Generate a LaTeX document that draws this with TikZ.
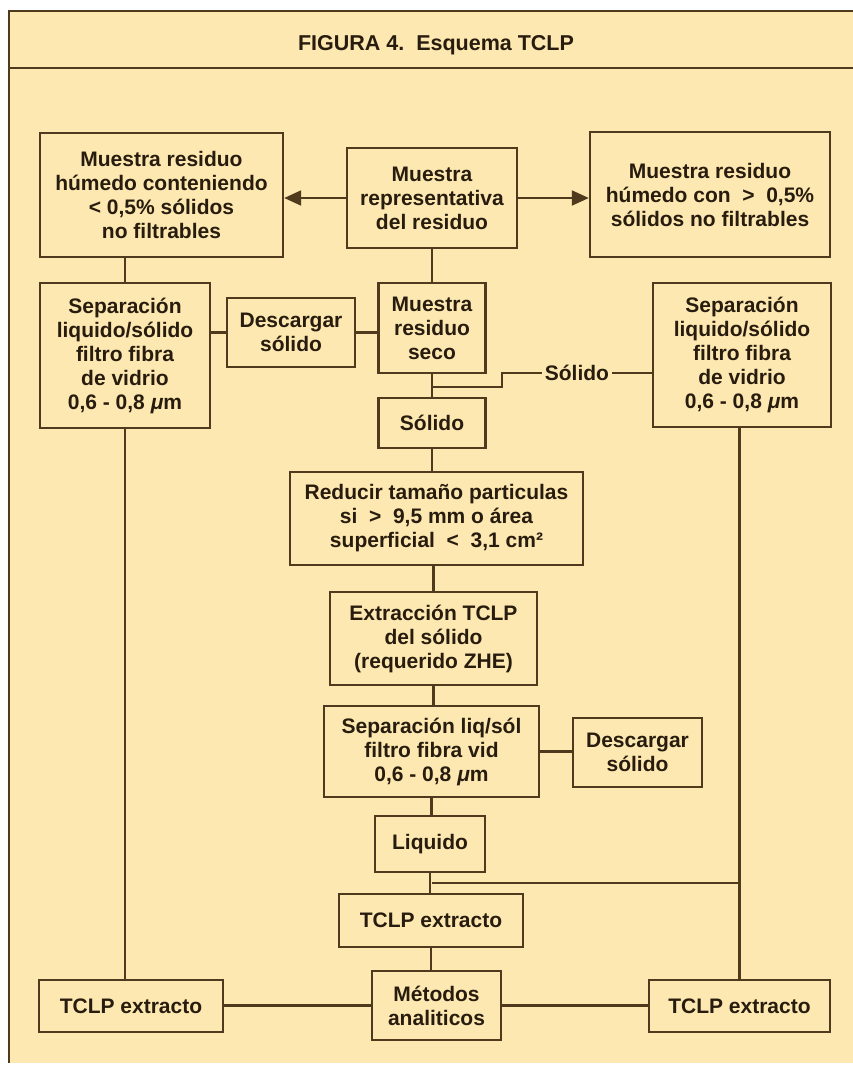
\documentclass[tikz,border=0pt]{standalone}
\usepackage{fontspec}
\setmainfont{Liberation Sans}
\usetikzlibrary{arrows.meta}

\definecolor{fondo}{RGB}{252,232,176}
\definecolor{tinta}{RGB}{80,58,30}
\definecolor{letra}{RGB}{40,28,15}

\tikzset{
  caja/.style={draw=tinta, line width=2.4pt, fill=fondo, text=letra, align=center,
    font=\fontsize{21}{24}\selectfont\bfseries, inner sep=2pt},
  linea/.style={draw=tinta, line width=2.1pt},
  flecha/.style={linea, -{Triangle[length=17pt,width=15pt]}}
}

\begin{document}
\begin{tikzpicture}[x=1pt,y=-1pt]
            \useasboundingbox (0,0) rectangle (853,1065);
            \fill[white] (0,0) rectangle (853,1065);
            \fill[fondo] (9,11) rectangle (853,1063);
            \draw[tinta, line width=1.8pt] (9,1063) -- (9,11) -- (853,11)
                  (9,68) -- (853,68);
            \draw (436,45) node[text=letra, font=\fontsize{21.5}{24}\selectfont\bfseries] (titulo) {FIGURA 4.\ \ Esquema TCLP};
            % fila superior
            \draw (161.5,195) node[caja, minimum width=243, minimum height=124] (izq) {Muestra residuo\\húmedo conteniendo\\< 0,5\% sólidos\\no filtrables};
            \draw (432,198) node[caja, minimum width=170, minimum height=100] (rep) {Muestra\\representativa\\del residuo};
            \draw (710,194.5) node[caja, minimum width=240, minimum height=125] (der) {Muestra residuo\\húmedo con \ > \ 0,5\%\\sólidos no filtrables};
            % segunda fila
            \draw (125,355.5) node[caja, minimum width=170, minimum height=145] (sepizq) {Separación\\liquido/sólido\\filtro fibra\\de vidrio\\0,6 - 0,8 {\itshape μ}m};
            \draw (291,332.5) node[caja, minimum width=128, minimum height=69] (descizq) {Descargar\\sólido};
            \draw (432,328) node[caja, minimum width=107, minimum height=90] (seco) {Muestra\\residuo\\seco};
            \draw (742,355) node[caja, minimum width=178, minimum height=144] (sepder) {Separación\\liquido/sólido\\filtro fibra\\de vidrio\\0,6 - 0,8 {\itshape μ}m};
            % columna central
            \draw (432,423) node[caja, minimum width=107, minimum height=50] (solido) {Sólido};
            \draw (436.5,518.5) node[caja, minimum width=293, minimum height=93] (reducir) {Reducir tamaño particulas\\si \ > \ 9,5 mm o área\\superficial \ < \ 3,1 cm²};
            \draw (433.5,638.5) node[caja, minimum width=207, minimum height=93] (extraccion) {Extracción TCLP\\del sólido\\(requerido ZHE)};
            \draw (431.5,751.5) node[caja, minimum width=215, minimum height=91] (sepliq) {Separación liq/sól\\filtro fibra vid\\0,6 - 0,8 {\itshape μ}m};
            \draw (637.5,752.5) node[caja, minimum width=129, minimum height=69] (descder) {Descargar\\sólido};
            \draw (430,844) node[caja, minimum width=110, minimum height=56] (liquido) {Liquido};
            \draw (431,920.5) node[caja, minimum width=184, minimum height=53] (extcen) {TCLP extracto};
            % fila inferior
            \draw (436.5,1005.5) node[caja, minimum width=129, minimum height=69] (metodos) {Métodos\\analiticos};
            \draw (131,1006) node[caja, minimum width=184, minimum height=52] (extizq) {TCLP extracto};
            \draw (739.5,1006) node[caja, minimum width=181, minimum height=52] (extder) {TCLP extracto};
            \coordinate (union) at (432,387);
            \coordinate (codo) at (502,373);
            \coordinate (union2) at (432,883);
            \draw[flecha] (rep.west) -- (rep.west -| izq.east);
            \draw[flecha] (rep.east) -- (rep.east -| der.west);
            \draw[linea] (sepizq.north) -- (sepizq.north |- izq.south)
                  (descizq.west) -- (descizq.west -| sepizq.east)
                  (descizq.east) -- (descizq.east -| seco.west)
                  (rep.south) -- (rep.south |- seco.north)
                  (seco.south) -- (seco.south |- solido.north)
                  (solido.south) -- (solido.south |- reducir.north)
                  (extraccion.north) -- (extraccion.north |- reducir.south)
                  (extraccion.south) -- (extraccion.south |- sepliq.north)
                  (sepliq.east) -- (sepliq.east -| descder.west)
                  (sepliq.south) -- (sepliq.south |- liquido.north)
                  (liquido.south) -- (liquido.south |- extcen.north)
                  (extcen.south) -- (extcen.south |- metodos.north)
                  (sepizq.south) -- (sepizq.south |- extizq.north)
                  (extder.north) -- (extder.north |- sepder.south)
                  (union2) -- (union2 -| extder.north)
                  (metodos.west) -- (metodos.west -| extizq.east)
                  (metodos.east) -- (metodos.east -| extder.west);
            \draw[linea] (union) -| (codo) -- node[fill=fondo, text=letra, font=\fontsize{21}{24}\selectfont\bfseries, inner xsep=3pt, inner ysep=0pt] (etiq) {Sólido} (codo -| sepder.west);
        \end{tikzpicture}
\end{document}
